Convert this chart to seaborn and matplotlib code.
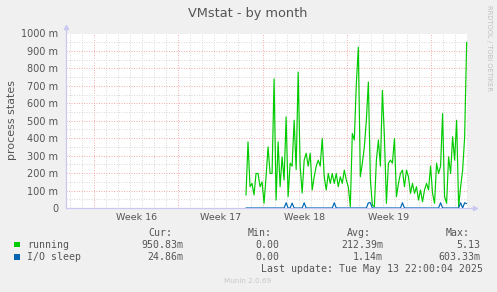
import numpy as np
import pandas as pd
import matplotlib
matplotlib.use("Agg")
import matplotlib.pyplot as plt
import matplotlib.patches as mpatches
import seaborn as sns

# ---------------- data (values in milli-processes) ----------------
series_names = ["running", "I/O sleep"]
series_colors = ["#00CC00", "#0066B3"]

running = [74, 379, 122, 141, 75, 198, 198, 122, 150, 27, 179, 350, 198, 198, 740, 46,
           379, 122, 293, 160, 522, 65, 257, 240, 503, 220, 779, 240, 86, 274, 314, 240,
           314, 103, 179, 240, 274, 240, 398, 179, 103, 198, 141, 198, 141, 198, 122, 179,
           141, 217, 160, 122, 8, 427, 390, 712, 922, 179, 257, 350, 503, 722, 160, 17,
           8, 274, 390, 240, 674, 408, 27, 257, 274, 257, 398, 65, 141, 198, 217, 122,
           217, 179, 84, 141, 84, 122, 46, 103, 36, 103, 141, 103, 240, 84, 27, 257,
           198, 240, 541, 65, 27, 293, 198, 408, 274, 503, 8, 122, 217, 408, 950]

io_sleep = [0, 0, 0, 0, 0, 0, 0, 0, 0, 0, 0, 0, 0, 0, 0, 0,
            0, 0, 0, 0, 30, 0, 0, 28, 0, 0, 0, 0, 0, 30, 0, 0,
            0, 0, 0, 0, 0, 0, 0, 0, 0, 0, 0, 0, 30, 0, 0, 0,
            0, 0, 0, 0, 0, 0, 0, 0, 0, 0, 0, 0, 0, 30, 30, 0,
            0, 0, 0, 0, 0, 0, 0, 0, 0, 0, 0, 0, 0, 0, 30, 0,
            0, 0, 0, 0, 0, 0, 0, 0, 0, 0, 0, 0, 0, 0, 0, 0,
            0, 30, 0, 0, 0, 0, 0, 0, 0, 0, 0, 30, 0, 30, 25]

week_labels = ["Week 16", "Week 17", "Week 18", "Week 19"]
y_ticks = [0, 100, 200, 300, 400, 500, 600, 700, 800, 900, 1000]
y_tick_labels = ["0", "100 m", "200 m", "300 m", "400 m", "500 m",
                 "600 m", "700 m", "800 m", "900 m", "1000 m"]

stat_headers = ["Cur:", "Min:", "Avg:", "Max:"]
stats_running = ["950.83m", "0.00", "212.39m", "5.13"]
stats_io = ["24.86m", "0.00", "1.14m", "603.33m"]
last_update = "Last update: Tue May 13 22:00:04 2025"

# time axis (days from left edge of graph), samples every 4 hours
START_DAY = 14.955
STEP_DAY = 4 / 24.0
X_MAX = 33.4
FIRST_WEEK = 2.33

# ---------------- figure ----------------
W, H = 497, 292
sns.set_style("white")
plt.rcParams["font.family"] = ["DejaVu Sans"]

fig = plt.figure(figsize=(W / 100, H / 100), dpi=100, facecolor="#F0F0F0")
L, R, T, B = 66, 468, 33.5, 208
ax = fig.add_axes([L / W, 1 - B / H, (R - L) / W, (B - T) / H])
ax.set_facecolor("white")

n = len(running)
t = START_DAY + np.arange(n) * STEP_DAY
df = pd.concat([
    pd.DataFrame({"day": t, "value": running, "series": series_names[0]}),
    pd.DataFrame({"day": t, "value": io_sleep, "series": series_names[1]}),
])
sns.lineplot(data=df, x="day", y="value", hue="series",
             palette=dict(zip(series_names, series_colors)),
             estimator=None, legend=False, lw=0.85, ax=ax, zorder=3)

ax.set_xlim(0, X_MAX)
ax.set_ylim(0, 1000)
ax.set_xlabel("")
ax.set_ylabel("")

# grid
ax.set_yticks(y_ticks)
ax.set_yticklabels(y_tick_labels)
ax.set_yticks([v + 50 for v in y_ticks[:-1]], minor=True)
ax.set_xticks([FIRST_WEEK + 7 * k for k in range(5)])
ax.set_xticklabels([])
ax.set_xticks([FIRST_WEEK - 2 + d for d in range(34) if FIRST_WEEK - 2 + d <= X_MAX], minor=True)
ax.grid(which="minor", color="#DADADA", linestyle=(0, (1, 1.5)), lw=0.72)
ax.grid(which="major", color="#F5B0B0", linestyle=(0, (1, 1.5)), lw=0.72)
ax.set_axisbelow(True)

ax.tick_params(axis="y", which="both", length=0, pad=5.5, labelsize=7, labelcolor="#555555")
ax.tick_params(axis="x", which="major", length=2, color="#F5B0B0", direction="out")
ax.tick_params(axis="x", which="minor", length=2, color="#D0D0D0", direction="out")

for s in ax.spines.values():
    s.set_visible(False)

# axis lines with arrows
axis_c = "#C8C8F0"
ax.plot([0, 0], [0, 1.03], transform=ax.transAxes, color=axis_c, lw=0.9, clip_on=False, zorder=1)
ax.plot([0, 1.015], [0, 0], transform=ax.transAxes, color=axis_c, lw=0.9, clip_on=False, zorder=1)
ax.plot([0], [1.035], marker="^", ms=3, color=axis_c, transform=ax.transAxes, clip_on=False)
ax.plot([1.018], [0], marker=">", ms=3, color=axis_c, transform=ax.transAxes, clip_on=False)

# week labels
for k, lab in enumerate(week_labels):
    ax.text(FIRST_WEEK + 3.5 + 7 * k, -0.055, lab, transform=ax.get_xaxis_transform(),
            ha="center", va="center", fontsize=6.8, color="#555555")

def fx(x):
    return x / W

def fy(y):
    return 1 - y / H

fig.text(fx(248), fy(13), "VMstat - by month", ha="center", va="center",
         fontsize=9.3, color="#555555")
fig.text(fx(12), fy(120), "process states", ha="center", va="center",
         rotation=90, fontsize=7.9, color="#555555")
fig.text(fx(489), fy(5), "RRDTOOL / TOBI OETIKER", ha="center", va="top",
         rotation=270, fontsize=4.9, color="#C0C0C0")

mono = "DejaVu Sans Mono"
col_right = [183, 279, 383, 480]
head_right = [172, 272, 371, 470]
for hx, h in zip(head_right, stat_headers):
    fig.text(fx(hx), fy(233), h, ha="right", va="center", family=mono, fontsize=7.1, color="#555555")
rows = [(244.5, series_names[0], series_colors[0], stats_running),
        (257, series_names[1], series_colors[1], stats_io)]
for y, name, c, st in rows:
    fig.patches.append(mpatches.Rectangle((fx(14), fy(y + 2.8)), 5.5 / W, 5.5 / H,
                                          transform=fig.transFigure, facecolor=c,
                                          edgecolor="none"))
    fig.text(fx(27), fy(y), name, ha="left", va="center", family=mono, fontsize=7.1, color="#555555")
    for xr, v in zip(col_right, st):
        fig.text(fx(xr), fy(y), v, ha="right", va="center", family=mono, fontsize=7.1, color="#555555")
fig.text(fx(483), fy(269), last_update, ha="right", va="center", family=mono,
         fontsize=7.1, color="#555555")
fig.text(fx(248), fy(281), "Munin 2.0.69", ha="center", va="center",
         fontsize=5.2, color="#C8C8C8")

fig.savefig("out.png", dpi=100, facecolor=fig.get_facecolor())
